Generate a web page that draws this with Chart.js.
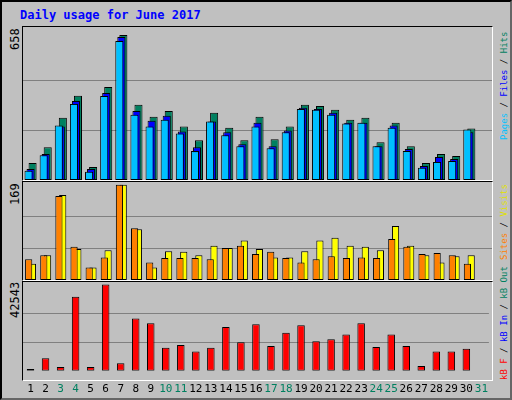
<!DOCTYPE html>
<html>
<head>
<meta charset="utf-8">
<script src="https://cdn.jsdelivr.net/npm/chart.js@4"></script>
<style>
  html, body { margin: 0; padding: 0; background: #fff; }
  #wrap { position: relative; width: 512px; height: 400px; background: #c0c0c0; box-sizing: border-box; border: 2px solid #000; border-right-color: #666; border-bottom-color: #666; }
  .title { position: absolute; left: 18px; top: 6px; font: bold 12px 'DejaVu Sans Mono', monospace; color: #0000ff; }
  .panel { position: absolute; left: 20px; width: 471px; border: 1px solid #000; border-right-color: #fff; border-bottom-color: #fff; box-sizing: border-box; }
  .cv { position: absolute; left: 21px; }
  .vlab { position: absolute; font: 12px 'DejaVu Sans Mono', monospace; transform-origin: left top; transform: rotate(-90deg); white-space: nowrap; }
  .rlab { font-size: 9px; left: 497px; }
</style>
</head>
<body>
<div id="wrap">
  <div class="title">Daily usage for June 2017</div>
  <div class="panel" style="top:24px;height:155px"></div>
  <div class="panel" style="top:179px;height:100px"></div>
  <div class="panel" style="top:279px;height:100px"></div>
  <div class="cv" style="top:25px;width:469px;height:153px"><canvas id="c1"></canvas></div>
  <div class="cv" style="top:180px;width:469px;height:98px"><canvas id="c2"></canvas></div>
  <div class="cv" style="top:280px;width:469px;height:118px"><canvas id="c3"></canvas></div>
  <div class="vlab" style="left:6px;top:48px">658</div>
  <div class="vlab" style="left:6px;top:203px">169</div>
  <div class="vlab" style="left:6px;top:316px">42543</div>
  <div class="vlab rlab" style="top:138px"><span style="color:#00c0ff">Pages</span> / <span style="color:#0000ff">Files</span> / <span style="color:#008060">Hits</span></div>
  <div class="vlab rlab" style="top:258px"><span style="color:#ff8000">Sites</span> / <span style="color:#e0e000">Visits</span></div>
  <div class="vlab rlab" style="top:378px"><span style="color:#ff0000">kB F</span> / <span style="color:#0000ff">kB In</span> / <span style="color:#008060">kB Out</span></div>
</div>
<script>
var days = ['1','2','3','4','5','6','7','8','9','10','11','12','13','14','15','16','17','18','19','20','21','22','23','24','25','26','27','28','29','30','31'];
var weekend = ['3','4','10','11','17','18','24','25','31'];
var hits = [75,145,276,373,58,412,642,333,280,306,237,176,298,232,176,280,180,237,333,328,311,267,276,167,254,150,75,115,106,228,0];
var files = [49,115,237,350,49,385,633,306,263,285,215,145,259,211,158,254,150,219,320,315,298,254,254,150,241,137,62,102,93,211,0];
var pages = [41,110,241,337,36,372,616,289,237,267,206,128,259,198,150,237,141,211,315,311,289,250,254,150,232,128,54,80,84,224,0];
var visits = [29,44,151,55,22,53,169,90,22,51,50,44,61,57,70,55,40,40,51,70,75,61,59,53,96,61,44,31,42,44,0];
var sites = [37,44,149,59,22,40,169,92,31,39,39,39,37,57,61,46,50,39,31,37,42,39,40,39,73,59,46,48,44,29,0];
var kbF = [930,6210,1860,36500,1860,42543,3730,25780,23450,11340,12730,9470,11340,21590,14130,22980,12270,18790,22520,14600,15530,17860,23450,11800,17860,12270,2330,9470,9470,10870,0];

function opts(max, showX) {
  return {
    responsive: true, maintainAspectRatio: false, animation: false,
    layout: { padding: { top: 0, bottom: 0, left: 0, right: 0 } },
    plugins: { legend: { display: false }, tooltip: { enabled: false } },
    scales: {
      x: {
        display: showX,
        grid: { display: false }, border: { display: false },
        ticks: {
          padding: 4, maxRotation: 0, autoSkip: false,
          font: { family: "'DejaVu Sans Mono', monospace", size: 11 },
          color: function (c) { return weekend.indexOf(days[c.index]) >= 0 ? '#008060' : '#000'; }
        }
      },
      y: {
        display: true, min: 0, max: max * 1.03,
        afterBuildTicks: function (axis) {
          axis.ticks = [{ value: max / 3 }, { value: max * 2 / 3 }];
        },
        ticks: { display: false },
        grid: { color: '#808080', drawTicks: false },
        border: { display: false }
      }
    }
  };
}

function ds(data, color, cat, bar, order) {
  return { data: data, order: order, backgroundColor: color, borderColor: '#000', borderWidth: 1, categoryPercentage: cat, barPercentage: bar, borderSkipped: false };
}

new Chart(document.getElementById('c1'), {
  type: 'bar',
  data: { labels: days, datasets: [ds(hits, '#008060', 0.4, 4, 2), ds(files, '#0000ff', 0.4, 4, 1), ds(pages, '#00c0ff', 0.4, 4, 0)] },
  options: opts(658, false)
});
new Chart(document.getElementById('c2'), {
  type: 'bar',
  data: { labels: days, datasets: [ds(visits, '#ffff00', 0.5, 1.9, 1), ds(sites, '#ff8000', 0.5, 1.9, 0)] },
  options: opts(169, false)
});
new Chart(document.getElementById('c3'), {
  type: 'bar',
  data: { labels: days, datasets: [ds(kbF, '#ff0000', 0.5, 1, 0)] },
  options: opts(42543, true)
});
</script>
</body>
</html>
